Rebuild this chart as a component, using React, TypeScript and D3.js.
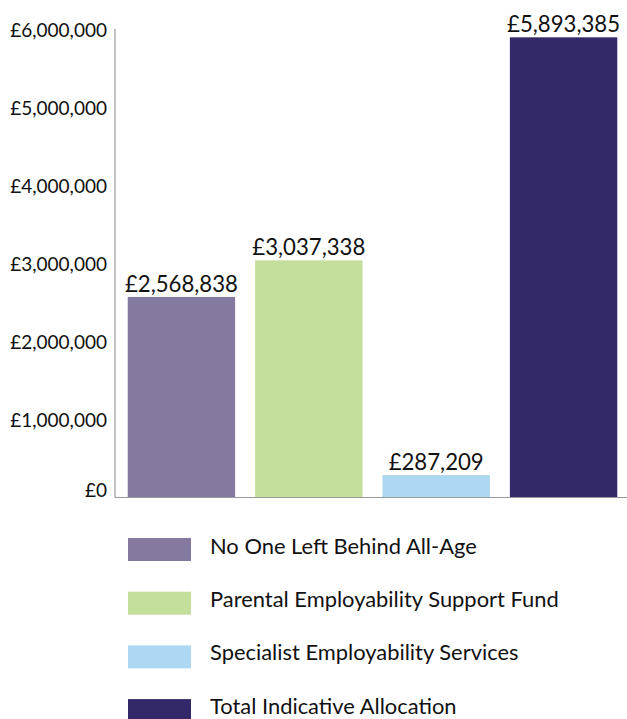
import React from "react";
import * as d3 from "d3";

const categories = [
  "No One Left Behind All-Age",
  "Parental Employability Support Fund",
  "Specialist Employability Services",
  "Total Indicative Allocation",
];
const values = [2568838, 3037338, 287209, 5893385];
const colors = ["#8679A0", "#C4DF9B", "#ADD8F1", "#332968"];
const yTicks = [0, 1000000, 2000000, 3000000, 4000000, 5000000, 6000000];

const W = 627;
const H = 719;
const FONT = "Lato, 'Open Sans', sans-serif";

export default function App() {
  const y = d3.scaleLinear().domain([0, 6000000]).range([497.5, 29]);
  const x = d3
    .scaleBand<string>()
    .domain(categories)
    .range([115, 630])
    .paddingInner(0.157)
    .paddingOuter(0.1);
  const fmt = (v: number) => "£" + d3.format(",")(v);

  return (
    <svg
      width={W}
      height={H}
      style={{ position: "absolute", left: 0, top: 0, display: "block", background: "#fff" }}
      fontFamily={FONT}
    >
      {categories.map((c, i) => (
        <rect
          key={c}
          x={x(c)}
          y={y(values[i])}
          width={x.bandwidth()}
          height={y(0) - y(values[i])}
          fill={colors[i]}
        />
      ))}
      <line x1={115} x2={115} y1={y(6000000)} y2={y(0)} stroke="#9a9a9a" strokeWidth={1.2} />
      <line x1={115} x2={W} y1={y(0)} y2={y(0)} stroke="#9a9a9a" strokeWidth={1.2} />
      {yTicks.map((t) => (
        <text
          key={t}
          x={107}
          y={y(t) + (t === 0 ? -5 : 3)}
          textAnchor="end"
          dominantBaseline="middle"
          fontSize={19}
          fill="#111"
        >
          {fmt(t)}
        </text>
      ))}
      {categories.map((c, i) => (
        <text
          key={c + "-lbl"}
          x={(x(c) as number) + x.bandwidth() / 2}
          y={y(values[i]) - 5}
          textAnchor="middle"
          fontSize={22.2}
          fill="#111"
        >
          {fmt(values[i])}
        </text>
      ))}
      {categories.map((c, i) => {
        const ly = 538 + i * 53.7;
        return (
          <g key={c + "-leg"}>
            <rect x={128} y={ly} width={63} height={23} fill={colors[i]} />
            <text
              x={210}
              y={ly + 10.5 - i * 0.5}
              dominantBaseline="middle"
              fontSize={21.9}
              fill="#111"
            >
              {c}
            </text>
          </g>
        );
      })}
    </svg>
  );
}
